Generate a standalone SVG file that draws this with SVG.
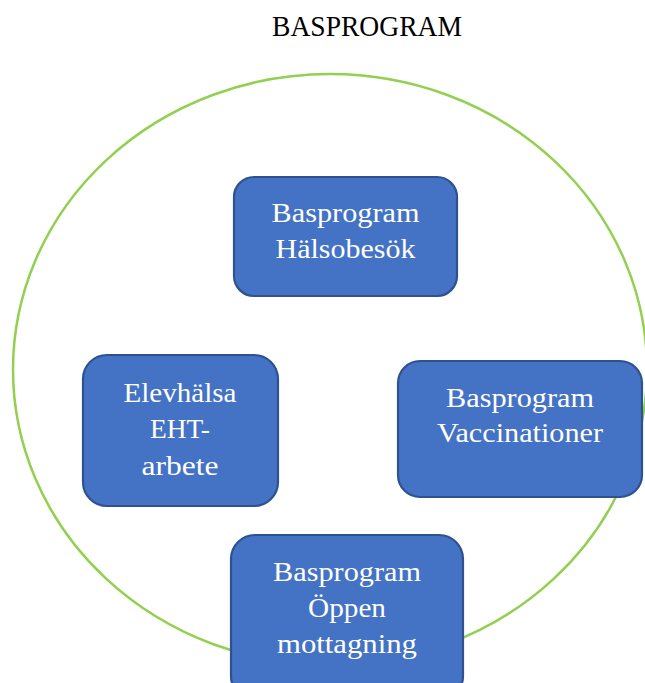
<svg xmlns="http://www.w3.org/2000/svg" width="645" height="683" viewBox="0 0 645 683">
<style>
.node rect{fill:#4472C4;stroke:#2F528F;stroke-width:2.2}
.node text{fill:#FFFFFF;font-family:"Liberation Serif","Times New Roman",serif;font-size:27px;text-anchor:middle}
.title{fill:#000000;font-family:"Liberation Serif","Times New Roman",serif;font-size:30px;text-anchor:middle}
.ring{fill:none;stroke:#92D050;stroke-width:2.5}
</style>
<rect width="645" height="683" fill="#FFFFFF"/>
<text class="title" x="367" y="36" textLength="190" lengthAdjust="spacingAndGlyphs">BASPROGRAM</text>
<g id="connectors">
<ellipse class="ring" cx="330" cy="369.5" rx="317" ry="295.5"/>
</g>
<g id="halsobesok" class="node">
<rect x="234" y="177" width="223" height="119" rx="20"/>
<text x="345.5" y="222" textLength="148" lengthAdjust="spacingAndGlyphs">Basprogram</text>
<text x="345.5" y="258" textLength="140" lengthAdjust="spacingAndGlyphs">Hälsobesök</text>
</g>
<g id="elevhalsa" class="node">
<rect x="83" y="355" width="195" height="151" rx="24"/>
<text x="180" y="402" textLength="113" lengthAdjust="spacingAndGlyphs">Elevhälsa</text>
<text x="180" y="438" textLength="60" lengthAdjust="spacingAndGlyphs">EHT-</text>
<text x="180" y="475" textLength="77" lengthAdjust="spacingAndGlyphs">arbete</text>
</g>
<g id="vaccinationer" class="node">
<rect x="398" y="361" width="244" height="136" rx="22"/>
<text x="520" y="407" textLength="148" lengthAdjust="spacingAndGlyphs">Basprogram</text>
<text x="520" y="442" textLength="166" lengthAdjust="spacingAndGlyphs">Vaccinationer</text>
</g>
<g id="oppen" class="node">
<rect x="231" y="535" width="232" height="165" rx="24"/>
<text x="347" y="581" textLength="148" lengthAdjust="spacingAndGlyphs">Basprogram</text>
<text x="347" y="617" textLength="78" lengthAdjust="spacingAndGlyphs">Öppen</text>
<text x="347" y="653" textLength="140" lengthAdjust="spacingAndGlyphs">mottagning</text>
</g>
</svg>
